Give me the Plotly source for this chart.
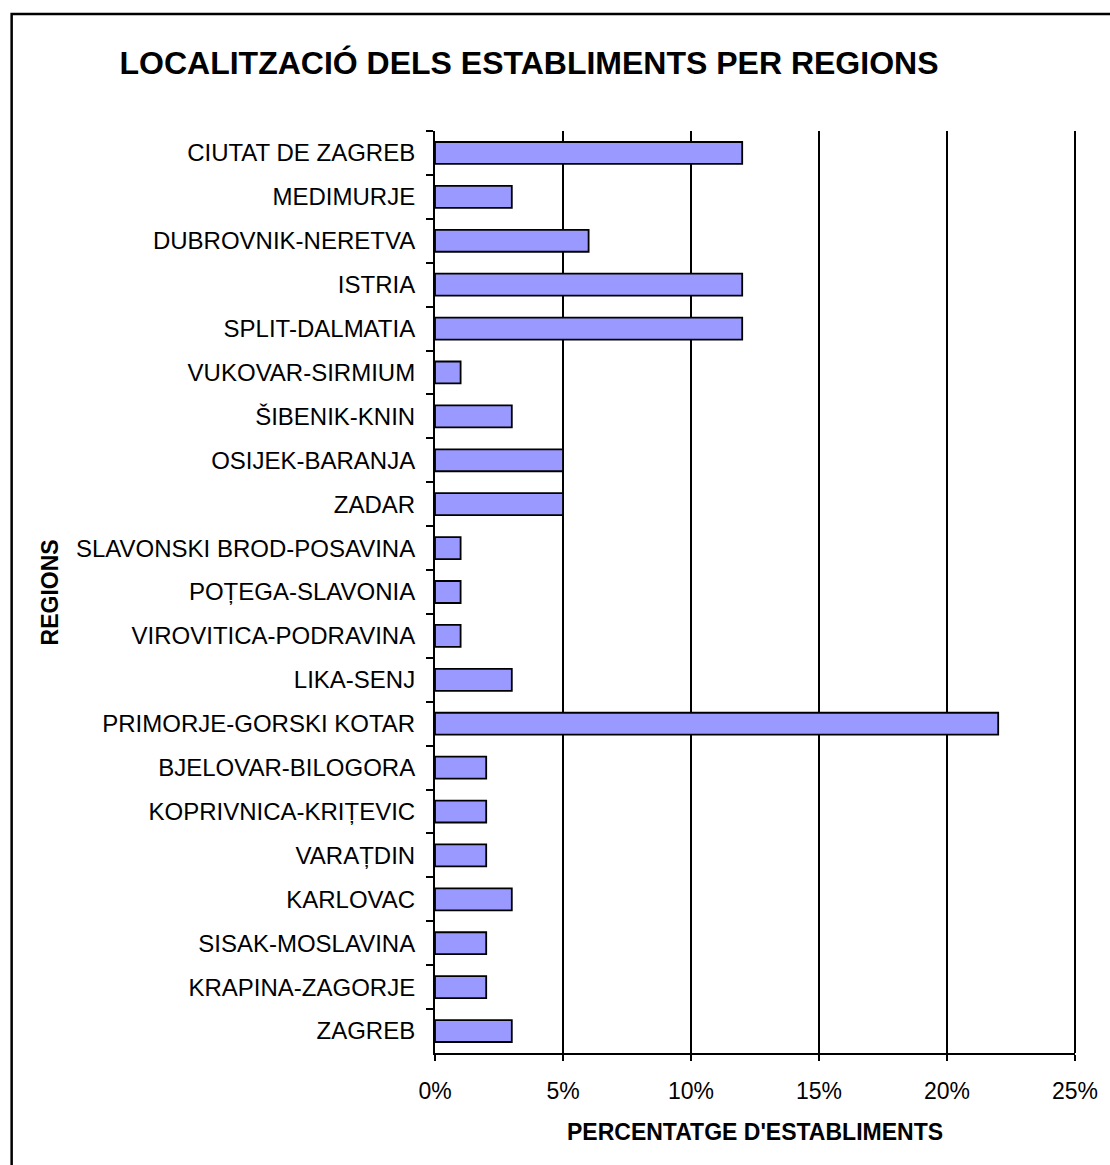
import plotly.graph_objects as go

# regiones de arriba a abajo, tal como salen en el grafico
regiones = [
    "CIUTAT DE ZAGREB", "MEDIMURJE", "DUBROVNIK-NERETVA", "ISTRIA",
    "SPLIT-DALMATIA", "VUKOVAR-SIRMIUM", "ŠIBENIK-KNIN", "OSIJEK-BARANJA",
    "ZADAR", "SLAVONSKI BROD-POSAVINA", "POȚEGA-SLAVONIA",
    "VIROVITICA-PODRAVINA", "LIKA-SENJ", "PRIMORJE-GORSKI KOTAR",
    "BJELOVAR-BILOGORA", "KOPRIVNICA-KRIȚEVIC", "VARAȚDIN", "KARLOVAC",
    "SISAK-MOSLAVINA", "KRAPINA-ZAGORJE", "ZAGREB",
]
porcentaje = [12, 3, 6, 12, 12, 1, 3, 5, 5, 1, 1, 1, 3, 22, 2, 2, 2, 3, 2, 2, 3]

fuente = "Liberation Sans, Arial, sans-serif"

fig = go.Figure(go.Bar(
    x=porcentaje,
    y=regiones,
    orientation="h",
    width=0.5,
    marker=dict(color="#9999FF", line=dict(color="black", width=1.8)),
))

fig.update_layout(
    width=1110,
    height=1165,
    margin=dict(l=435, r=31, t=131, b=112),
    paper_bgcolor="white",
    plot_bgcolor="white",
    showlegend=False,
    font=dict(family=fuente, color="black", size=24),
    title=dict(
        text="<b>LOCALITZACIÓ DELS ESTABLIMENTS PER REGIONS</b>",
        x=529 / 1110, xref="container", xanchor="center",
        y=1 - 63 / 1165, yref="container", yanchor="middle",
        font=dict(size=32, family=fuente, color="black"),
    ),
    xaxis=dict(
        range=[0, 25], dtick=5, ticksuffix="%",
        showgrid=True, gridcolor="black", gridwidth=2,
        zeroline=False,
        showline=True, linecolor="black", linewidth=2,
        ticks="outside", ticklen=6, tickwidth=2, tickcolor="black",
        ticklabelstandoff=10,
        tickfont=dict(size=23),
    ),
    yaxis=dict(
        autorange="reversed",
        showgrid=False, zeroline=False,
        showline=True, linecolor="black", linewidth=2,
        ticks="outside", tickson="boundaries", ticklen=7, tickwidth=2,
        tickcolor="black",
        ticklabelstandoff=13,
        tickfont=dict(size=24),
    ),
)

# la ultima linea de rejilla (25%) hace de borde derecho
fig.add_shape(
    type="line", xref="paper", yref="paper", x0=1, x1=1, y0=0, y1=1,
    line=dict(color="black", width=2),
)

# titulos de los ejes como anotaciones para colocarlos a mano
fig.add_annotation(
    text="<b>PERCENTATGE D'ESTABLIMENTS</b>", showarrow=False,
    xref="paper", yref="paper", x=0.5, y=-(1132 - 1053) / 922,
    xanchor="center", yanchor="middle", font=dict(size=23),
)
fig.add_annotation(
    text="<b>REGIONS</b>", showarrow=False, textangle=-90,
    xref="paper", yref="paper", x=(48 - 435) / 644, y=0.5,
    xanchor="center", yanchor="middle", font=dict(size=23),
)

# marco exterior del grafico
fig.add_shape(
    type="rect", xref="paper", yref="paper",
    x0=(9 - 435) / 644, x1=(1125 - 435) / 644,
    y0=-(1180 - 1053) / 922, y1=1 + (131 - 14) / 922,
    line=dict(color="black", width=2.5), layer="below",
)

# sin margen del body para que el grafico ocupe la ventana entera
fig.write_html(
    "out.html",
    config={"displayModeBar": False},
    post_script="document.body.style.margin='0px';",
)
